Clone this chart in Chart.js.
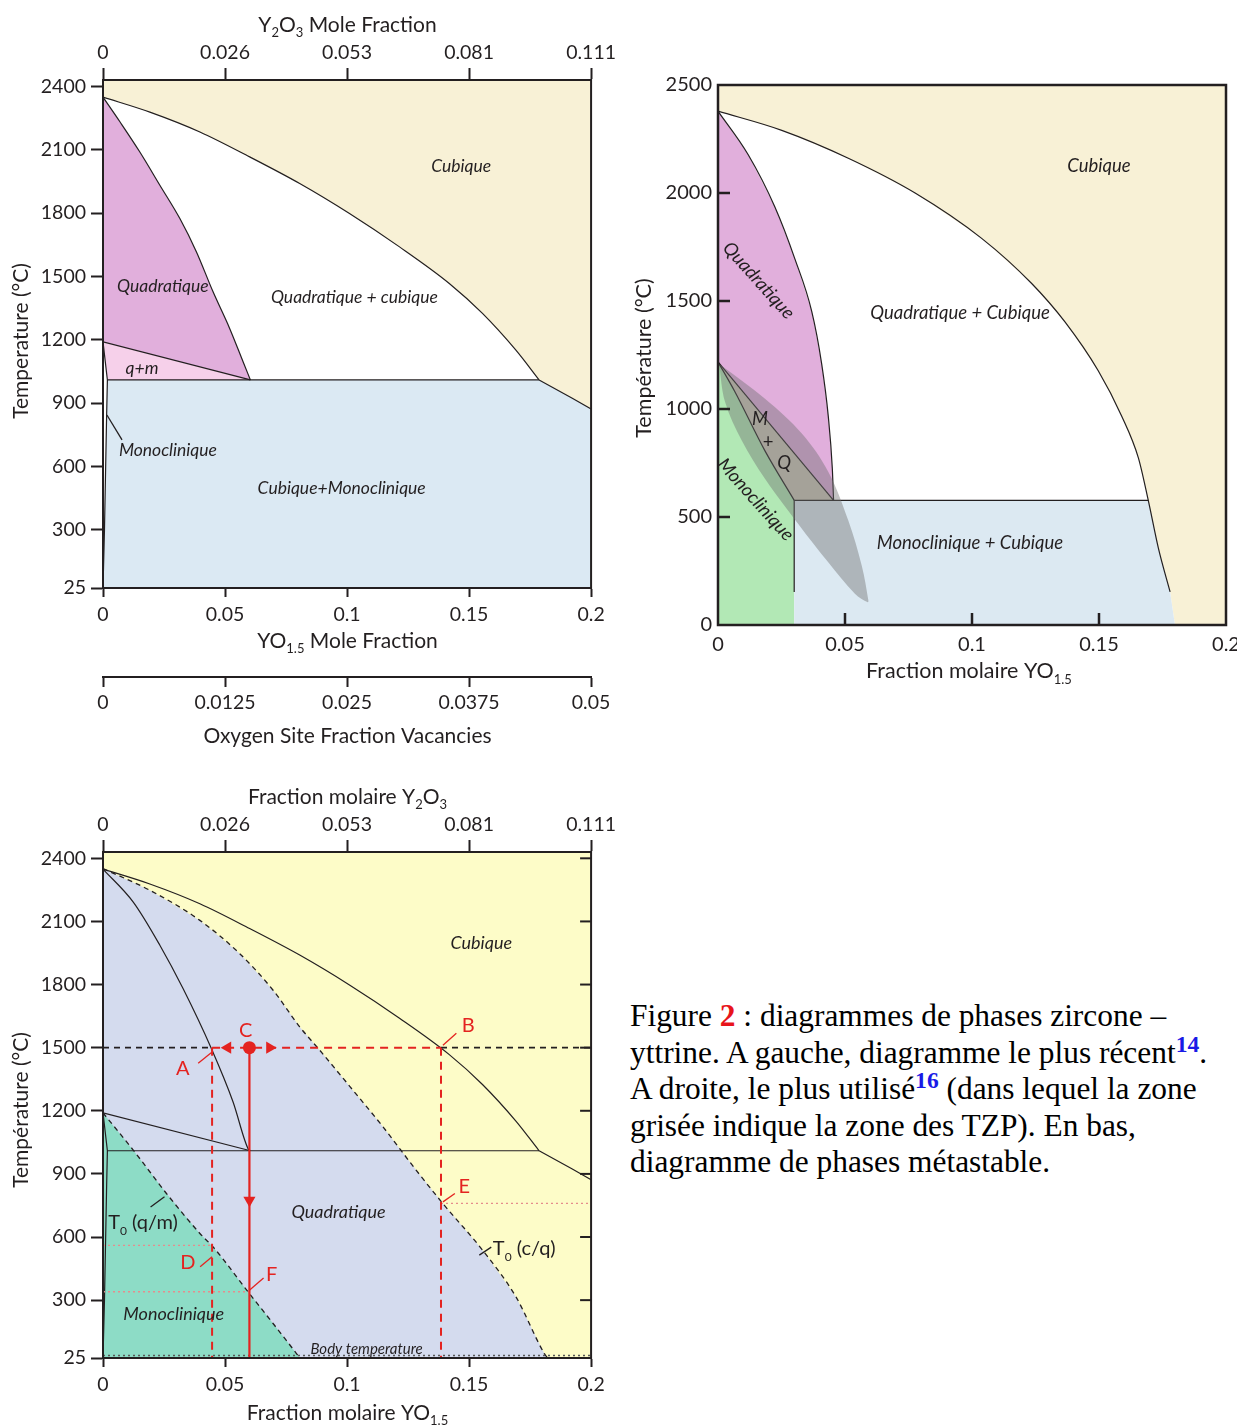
<!DOCTYPE html>
<html>
<head>
<meta charset="utf-8">
<script src="https://cdn.jsdelivr.net/npm/chart.js@4.4.1/dist/chart.umd.min.js"></script>
<style>
  html, body { margin: 0; padding: 0; background: #fff; overflow: hidden; width: 1237px; height: 1425px; }
  canvas { position: absolute; }
  #c1 { left: 0; top: 0; }
  #c2 { left: 620px; top: 60px; }
  #c3 { left: 0; top: 780px; }
  #caption {
    position: absolute; left: 630px; top: 998px;
    font-family: "Liberation Serif", "Times New Roman", serif;
    font-size: 31.4px; line-height: 36.5px; white-space: nowrap; color: #000;
  }
  .red { color: #e8141b; font-weight: bold; }
  .ref { color: #1a1ae6; font-weight: bold; font-size: 0.75em; vertical-align: super; line-height: 0; }
</style>
</head>
<body>
<canvas id="c1" width="620" height="760"></canvas>
<canvas id="c2" width="640" height="640"></canvas>
<canvas id="c3" width="620" height="645"></canvas>
<div id="caption">Figure <span class="red">2</span> : diagrammes de phases zircone –<br>yttrine. A gauche, diagramme le plus récent<span class="ref">14</span>.<br>A droite, le plus utilisé<span class="ref">16</span> (dans lequel la zone<br>grisée indique la zone des TZP). En bas,<br>diagramme de phases métastable.</div>

<script>
// ---- axis ticks ----
const tempTicks = [25, 300, 600, 900, 1200, 1500, 1800, 2100, 2400];
const tempTicksFr = [0, 500, 1000, 1500, 2000, 2500];
const yo15Ticks = [0, 0.05, 0.1, 0.15, 0.2];
const yo15Labels = ['0', '0.05', '0.1', '0.15', '0.2'];
const y2o3Labels = ['0', '0.026', '0.053', '0.081', '0.111'];
const vacancyTicks = [0, 0.0125, 0.025, 0.0375, 0.05];
const vacancyLabels = ['0', '0.0125', '0.025', '0.0375', '0.05'];

// ---- left diagram (recent), [YO1.5 fraction, °C] ----
const eutT = 1010;
const cubicLine = [[0, 2349], [0.0192, 2278], [0.0397, 2184], [0.0601, 2066], [0.0806, 1940], [0.101, 1798],
  [0.1215, 1640], [0.1419, 1467], [0.1555, 1325], [0.1692, 1151], [0.1787, 1010], [0.1923, 923], [0.2, 872]];
const tetraLine = [[0, 2349], [0.007, 2231], [0.0151, 2089], [0.0233, 1932], [0.0315, 1774], [0.0383, 1616],
  [0.0451, 1427], [0.0519, 1254], [0.0574, 1096], [0.0604, 1010]];
const qmLine = [[0, 1190], [0.0604, 1010]];
const monoLine = [[0, 1190], [0.0018, 1010], [0.0015, 850], [0.0006, 300], [0, 25]];
const eutectoid = [[0.0018, 1010], [0.1787, 1010]];

// ---- right diagram (most used) ----
const eutTFr = 577;
const cubicLineFr = [[0, 2379], [0.0251, 2290], [0.0513, 2161], [0.0776, 2000], [0.1038, 1790], [0.1235, 1581],
  [0.1366, 1403], [0.1497, 1177], [0.1589, 968], [0.1655, 774], [0.1694, 577], [0.1734, 355], [0.178, 153]];
const cubicTailFr = [[0.178, 153], [0.1799, 0]];
const tetraLineFr = [[0, 2379], [0.0119, 2177], [0.0224, 1935], [0.0303, 1694], [0.0369, 1452], [0.0408, 1210],
  [0.0434, 968], [0.045, 726], [0.0455, 577]];
const mqUpperFr = [[0, 1218], [0.0455, 577]];
const mqLowerFr = [[0, 1218], [0.0066, 1081], [0.0185, 806], [0.03, 577]];
const eutectoidFr = [[0.03, 577], [0.1694, 577]];
const monoEdgeFr = [[0.03, 577], [0.03, 153]];
const tzpOutline = [[0.0004, 1210], [0.0185, 1048], [0.033, 887], [0.0434, 710], [0.0513, 484], [0.0566, 274],
  [0.0592, 113], [0.059, 105], [0.0539, 145], [0.0434, 290], [0.0316, 468], [0.0185, 677], [0.0093, 855],
  [0.0028, 1032], [0.0004, 1210]];

// ---- bottom diagram (metastable) ----
const tetraLineMeta = [[0, 2349], [0.0124, 2192], [0.0233, 1987], [0.0328, 1781], [0.0444, 1496], [0.0533, 1242],
  [0.0594, 1021], [0.0604, 1010]];
const t0cq = [[0, 2351], [0.0192, 2248], [0.0397, 2105], [0.056, 1947], [0.0697, 1773], [0.0806, 1599],
  [0.0888, 1488], [0.1024, 1298], [0.1147, 1124], [0.1283, 918], [0.1392, 760], [0.1555, 538], [0.1692, 316],
  [0.1808, 47], [0.1822, 25]];
const t0qm = [[0, 1190], [0.0124, 1013], [0.026, 807], [0.0397, 617], [0.0451, 553], [0.0594, 340],
  [0.0697, 189], [0.0792, 47], [0.0806, 25]];
const holdT = 1500;
const pointA = [0.0447, 1500], pointB = [0.1385, 1500], pointC = [0.06, 1500];
const tempD = 560, tempE = 760, tempF = 340, bodyT = 37;
const arrowsLR = [[0.0511, 1500], [0.0683, 1500]];
const arrowDown = [[0.06, 775]];

const INK = '#231f20';
const RED = '#e42320';
const FONT = 'Lato, "Open Sans", sans-serif';

const xy = pts => pts.map(([x, y]) => ({ x, y }));
const line = (pts, o = {}) => Object.assign({ data: xy(pts), showLine: true, fill: false, borderColor: INK,
  borderWidth: 1.2, pointRadius: 0 }, o);
const curve = (pts, o = {}) => line(pts, Object.assign({ cubicInterpolationMode: 'monotone' }, o));
const area = (pts, color, o = {}) => Object.assign({ data: xy(pts), showLine: true, fill: 'shape',
  backgroundColor: color, borderColor: 'transparent', borderWidth: 0, pointRadius: 0 }, o);

// text with sub/superscripts; y is the middle of capitals
function drawRich(ctx, parts, x, y, size, o = {}) {
  const segs = typeof parts === 'string' ? [[parts]] : parts;
  const it = o.italic ? 'italic ' : '';
  const small = Math.round(size * 0.62);
  let total = 0;
  const ws = segs.map(([t, k]) => {
    ctx.font = it + (k ? small : size) + 'px ' + FONT;
    const w = ctx.measureText(t).width;
    total += w;
    return w;
  });
  ctx.save();
  ctx.translate(x, y);
  if (o.rot) ctx.rotate(o.rot * Math.PI / 180);
  ctx.fillStyle = o.color || INK;
  ctx.textBaseline = 'alphabetic';
  ctx.textAlign = 'left';
  let cx = o.align === 'left' ? 0 : -total / 2;
  segs.forEach(([t, k], i) => {
    ctx.font = it + (k ? small : size) + 'px ' + FONT;
    const dy = k === 'sub' ? size * 0.28 : (k === 'sup' ? -size * 0.4 : 0);
    ctx.fillText(t, cx, size * 0.36 + dy);
    cx += ws[i];
  });
  ctx.restore();
}

const framePlugin = {
  id: 'frame',
  afterDatasetsDraw(chart, args, opts) {
    const { ctx, chartArea: a } = chart;
    ctx.save();
    ctx.strokeStyle = INK;
    ctx.lineWidth = opts.width || 2;
    ctx.strokeRect(a.left, a.top, a.right - a.left, a.bottom - a.top);
    (opts.inner || []).forEach(s => {
      const sc = chart.scales[s.scale];
      s.values.forEach(v => {
        const p = sc.getPixelForValue(v);
        ctx.beginPath();
        if (s.edge === 'left') { ctx.moveTo(a.left, p); ctx.lineTo(a.left + s.len, p); }
        if (s.edge === 'right') { ctx.moveTo(a.right, p); ctx.lineTo(a.right - s.len, p); }
        if (s.edge === 'bottom') { ctx.moveTo(p, a.bottom); ctx.lineTo(p, a.bottom - s.len); }
        ctx.stroke();
      });
    });
    ctx.restore();
  }
};

const textPlugin = {
  id: 'texts',
  afterDatasetsDraw(chart, args, opts) {
    const ctx = chart.ctx, xs = chart.scales.x, ys = chart.scales.y;
    (opts.leaders || []).forEach(l => {
      ctx.save();
      ctx.strokeStyle = l.color || INK;
      ctx.lineWidth = 1.3;
      ctx.beginPath();
      ctx.moveTo(xs.getPixelForValue(l.pts[0][0]), ys.getPixelForValue(l.pts[0][1]));
      ctx.lineTo(xs.getPixelForValue(l.pts[1][0]), ys.getPixelForValue(l.pts[1][1]));
      ctx.stroke();
      ctx.restore();
    });
    (opts.items || []).forEach(t =>
      drawRich(ctx, t.text, xs.getPixelForValue(t.x), ys.getPixelForValue(t.y), t.size || opts.size || 18, t));
    (opts.titles || []).forEach(t => drawRich(ctx, t.text, t.x, t.y, t.size || opts.titleSize || 21, t));
  }
};

function hAxis(position, labels, boxH, tickLen, pad, o = {}) {
  return Object.assign({
    type: 'linear', position, min: 0, max: 0.2,
    afterBuildTicks: s => { s.ticks = yo15Ticks.map(v => ({ value: v })); },
    afterFit: s => { s.height = boxH; },
    grid: { drawOnChartArea: false, drawTicks: tickLen > 0, tickLength: tickLen, tickWidth: 2, tickColor: INK },
    border: { display: true, width: 2, color: INK },
    ticks: { font: { family: FONT, size: o.fontSize || 19.5 }, color: INK, padding: pad, maxRotation: 0,
      autoSkip: false, callback: (v, i) => labels[i] }
  }, o);
}
function vAxis(values, min, max, boxW, tickLen, pad, fontSize) {
  return {
    type: 'linear', position: 'left', min, max,
    afterBuildTicks: s => { s.ticks = values.map(v => ({ value: v })); },
    afterFit: s => { s.width = boxW; },
    grid: { drawOnChartArea: false, drawTicks: tickLen > 0, tickLength: tickLen, tickWidth: 2, tickColor: INK },
    border: { display: true, width: 2, color: INK },
    ticks: { font: { family: FONT, size: fontSize || 19.5 }, color: INK, padding: pad, autoSkip: false,
      callback: v => String(v) }
  };
}
const base = (padRight, padTop) => ({
  responsive: false, animation: false, devicePixelRatio: 1, events: [],
  layout: { padding: { left: 0, top: padTop, right: padRight, bottom: 0 } }
});

// ================= left diagram =================
const cubicUpper = cubicLine.filter(p => p[1] >= eutT);
const cubicLower = cubicLine.filter(p => p[1] <= eutT);
const cubicRegion = [[0, 2430], ...cubicLine, [0.2, 2430]];
const tetraRegion = [...tetraLine, qmLine[0]];
const qmRegion = [qmLine[0], qmLine[1], eutectoid[0], monoLine[0]];
const blueRegion = [...eutectoid, ...cubicLower.slice(1), [0.2, 25], [0, 25], monoLine[3], monoLine[2]];

new Chart(document.getElementById('c1'), {
  type: 'scatter',
  data: { datasets: [
    line(monoLine), line(qmLine), curve(tetraLine), curve(cubicUpper), line(cubicLower), line(eutectoid),
    area(blueRegion, '#dbe9f3'), area(qmRegion, '#f6d0ea'), area(tetraRegion, '#e1afdc'), area(cubicRegion, '#f8f1d6')
  ] },
  options: Object.assign(base(28, 0), {
    plugins: {
      legend: { display: false }, tooltip: { enabled: false },
      frame: { width: 2 },
      texts: {
        size: 17.5,
        items: [
          { text: 'Cubique', x: 0.1468, y: 2026, italic: true },
          { text: 'Quadratique', x: 0.0245, y: 1454, italic: true },
          { text: 'Quadratique + cubique', x: 0.103, y: 1402, italic: true },
          { text: 'q+m', x: 0.016, y: 1066, italic: true },
          { text: 'Monoclinique', x: 0.0266, y: 678, italic: true },
          { text: 'Cubique+Monoclinique', x: 0.0978, y: 498, italic: true }
        ],
        leaders: [{ pts: [[0.0016, 844], [0.0078, 726]] }],
        titles: [
          { text: [['Y'], ['2', 'sub'], ['O'], ['3', 'sub'], [' Mole Fraction']], x: 347.5, y: 24 },
          { text: [['YO'], ['1.5', 'sub'], [' Mole Fraction']], x: 347.5, y: 640 },
          { text: 'Oxygen Site Fraction Vacancies', x: 347.5, y: 735 },
          { text: 'Temperature (°C)', x: 20, y: 341, rot: -90 }
        ]
      }
    },
    scales: {
      x: hAxis('bottom', yo15Labels, 89, 9, 6, { weight: 0 }),
      xv: {
        type: 'linear', position: 'bottom', weight: 1, min: 0, max: 0.05,
        afterBuildTicks: s => { s.ticks = vacancyTicks.map(v => ({ value: v })); },
        afterFit: s => { s.height = 83; },
        grid: { drawOnChartArea: false, tickLength: 10, tickWidth: 2, tickColor: INK },
        border: { display: true, width: 2, color: INK },
        ticks: { font: { family: FONT, size: 19.5 }, color: INK, padding: 4, maxRotation: 0, autoSkip: false,
          callback: (v, i) => vacancyLabels[i] }
      },
      x2: hAxis('top', y2o3Labels, 80, 12, 4),
      y: vAxis(tempTicks, 25, 2430, 103, 12, 5)
    }
  }),
  plugins: [framePlugin, textPlugin]
});

// ================= right diagram =================
const cubicRegionFr = [[0, 2500], ...cubicLineFr, ...cubicTailFr.slice(1), [0.2, 0], [0.2, 2500]];
const tetraRegionFr = [...tetraLineFr, mqUpperFr[0]];
const mqRegionFr = [...mqUpperFr, ...mqLowerFr.slice().reverse()];
const greenRegionFr = [[0, 0], ...mqLowerFr, [mqLowerFr[3][0], 0]];
const blueRegionFr = [[eutectoidFr[0][0], 0], ...eutectoidFr, ...cubicLineFr.filter(p => p[1] < eutTFr),
  ...cubicTailFr.slice(1)];

new Chart(document.getElementById('c2'), {
  type: 'scatter',
  data: { datasets: [
    area(tzpOutline, 'rgba(110,110,110,0.42)', { tension: 0.35 }),
    curve(cubicLineFr), curve(tetraLineFr), line(mqUpperFr),
    curve(mqLowerFr), line(eutectoidFr), line(monoEdgeFr),
    area(blueRegionFr, '#dce9f2'), area(greenRegionFr, '#b2e8b5'), area(mqRegionFr, '#cdc8b8'),
    area(tetraRegionFr, '#e1afdc'), area(cubicRegionFr, '#f8f1d6')
  ] },
  options: Object.assign(base(34, 25), {
    plugins: {
      legend: { display: false }, tooltip: { enabled: false },
      frame: { width: 2.5, inner: [
        { scale: 'y', edge: 'left', len: 12, values: [500, 1000, 1500, 2000] },
        { scale: 'x', edge: 'bottom', len: 12, values: [0.05, 0.1, 0.15] }
      ] },
      texts: {
        size: 18.5, titleSize: 21.5,
        items: [
          { text: 'Cubique', x: 0.15, y: 2130, italic: true },
          { text: 'Quadratique + Cubique', x: 0.0953, y: 1449, italic: true },
          { text: 'Quadratique', x: 0.0162, y: 1597, italic: true, rot: 48 },
          { text: 'M', x: 0.0165, y: 958, italic: true },
          { text: '+', x: 0.0197, y: 852 },
          { text: 'Q', x: 0.026, y: 755, italic: true },
          { text: 'Monoclinique', x: 0.015, y: 583, italic: true, rot: 48 },
          { text: 'Monoclinique + Cubique', x: 0.0992, y: 384, italic: true }
        ],
        titles: [
          { text: 'Température (°C)', x: 23, y: 298, rot: -90 },
          { text: [['Fraction molaire YO'], ['1.5', 'sub']], x: 349, y: 610 }
        ]
      }
    },
    scales: {
      x: hAxis('bottom', yo15Labels, 75, 0, 8, { fontSize: 20 }),
      y: vAxis(tempTicksFr, 0, 2500, 98, 0, 6, 20)
    }
  }),
  plugins: [framePlugin, textPlugin]
});

// ================= metastable diagram =================
const yellowRegion = [[0, 25], [0, 2430], [0.2, 2430], [0.2, 25]];
const lavenderRegion = [...t0cq, [0, 25]];
const tealRegion = [...t0qm, [0, 25]];
const red = (pts, dash, w) => line(pts, { borderColor: RED, borderWidth: w || 2, borderDash: dash || [] });
const dotted = pts => line(pts, { borderColor: '#e58c8c', borderWidth: 1.3, borderDash: [2, 3] });

new Chart(document.getElementById('c3'), {
  type: 'scatter',
  data: { datasets: [
    { data: xy([pointC]), pointRadius: 6.5, pointBackgroundColor: RED, pointBorderWidth: 0 },
    { data: xy(arrowsLR), pointStyle: 'triangle', rotation: [270, 90], pointRadius: 7,
      pointBackgroundColor: RED, pointBorderWidth: 0 },
    { data: xy(arrowDown), pointStyle: 'triangle', rotation: 180, pointRadius: 7,
      pointBackgroundColor: RED, pointBorderWidth: 0 },
    red([pointC, [pointC[0], 25]], [], 2.2),
    red([pointA, pointB], [8, 6]),
    red([pointA, [pointA[0], 25]], [8, 6]),
    red([pointB, [pointB[0], 25]], [8, 6]),
    line([[0, holdT], pointA], { borderDash: [6, 5], borderWidth: 1.6 }),
    line([pointB, [0.2, holdT]], { borderDash: [6, 5], borderWidth: 1.6 }),
    dotted([[0, tempD], [pointA[0], tempD]]),
    dotted([[0, tempF], [pointC[0], tempF]]),
    dotted([[pointB[0], tempE], [0.2, tempE]]),
    line([[0, bodyT], [0.2, bodyT]], { borderColor: '#555', borderDash: [2, 3], borderWidth: 1.3 }),
    curve(t0cq, { borderDash: [5, 4], borderWidth: 1.3 }),
    curve(t0qm, { borderDash: [5, 4], borderWidth: 1.3 }),
    line(monoLine), line(qmLine), curve(tetraLineMeta), curve(cubicUpper), line(cubicLower), line(eutectoid),
    area(tealRegion, '#8ddcc6'), area(lavenderRegion, '#d4dbee'), area(yellowRegion, '#fdfcc8')
  ] },
  options: Object.assign(base(28, 0), {
    plugins: {
      legend: { display: false }, tooltip: { enabled: false },
      frame: { width: 2, inner: [
        { scale: 'y', edge: 'right', len: 11, values: [300, 600, 900, 1200, 1500, 1800, 2100, 2400] }
      ] },
      texts: {
        size: 18,
        items: [
          { text: 'Cubique', x: 0.155, y: 2001, italic: true },
          { text: 'Quadratique', x: 0.0965, y: 723, italic: true },
          { text: 'Monoclinique', x: 0.029, y: 238, italic: true },
          { text: 'Body temperature', x: 0.108, y: 72, italic: true, size: 15 },
          { text: [['T'], ['0', 'sub'], [' (q/m)']], x: 0.0164, y: 671, size: 20 },
          { text: [['T'], ['0', 'sub'], [' (c/q)']], x: 0.1726, y: 547, size: 20 },
          { text: 'A', x: 0.0327, y: 1402, size: 20, color: RED },
          { text: 'B', x: 0.1497, y: 1607, size: 20, color: RED },
          { text: 'C', x: 0.0585, y: 1583, size: 20, color: RED },
          { text: 'D', x: 0.0348, y: 481, size: 20, color: RED },
          { text: 'E', x: 0.148, y: 842, size: 20, color: RED },
          { text: 'F', x: 0.0691, y: 424, size: 20, color: RED }
        ],
        leaders: [
          { pts: [[0.039, 1426], [0.0446, 1478]], color: RED },
          { pts: [[0.1393, 1512], [0.1448, 1569]], color: RED },
          { pts: [[0.0398, 459], [0.0447, 506]], color: RED },
          { pts: [[0.1393, 767], [0.1442, 807]], color: RED },
          { pts: [[0.0601, 348], [0.0658, 405]], color: RED },
          { pts: [[0.0195, 743], [0.0252, 791]] },
          { pts: [[0.1542, 514], [0.1591, 552]] }
        ],
        titles: [
          { text: [['Fraction molaire Y'], ['2', 'sub'], ['O'], ['3', 'sub']], x: 347.5, y: 16 },
          { text: [['Fraction molaire YO'], ['1.5', 'sub']], x: 347.5, y: 632 },
          { text: 'Température (°C)', x: 20, y: 330, rot: -90 }
        ]
      }
    },
    scales: {
      x: hAxis('bottom', yo15Labels, 67, 9, 6),
      x2: hAxis('top', y2o3Labels, 72, 12, 4),
      y: vAxis(tempTicks, 25, 2430, 103, 12, 5)
    }
  }),
  plugins: [framePlugin, textPlugin]
});
</script>
</body>
</html>
